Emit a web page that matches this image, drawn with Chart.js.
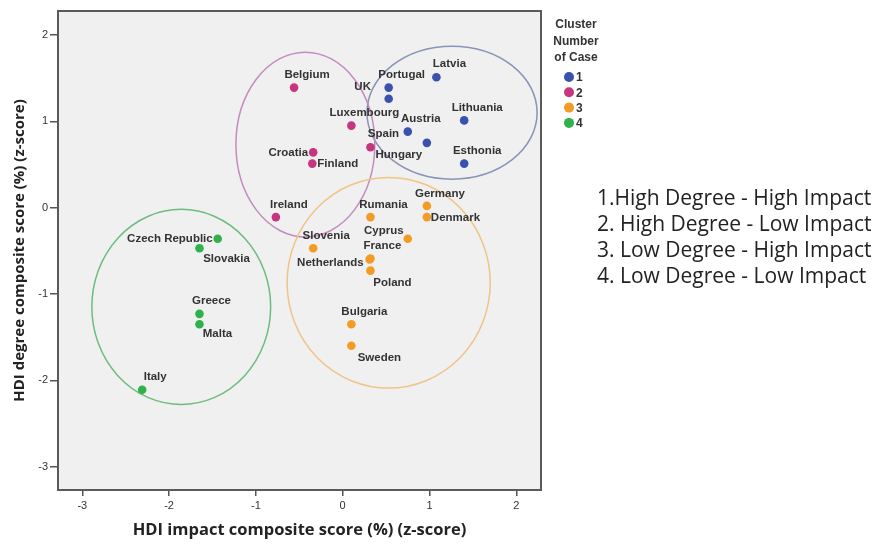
<!DOCTYPE html>
<html>
<head>
<meta charset="utf-8">
<title>HDI cluster scatter</title>
<script src="https://cdn.jsdelivr.net/npm/chart.js@4.4.0/dist/chart.umd.min.js"></script>
<style>
html, body { margin: 0; padding: 0; background: #fff; }
#wrap { position: relative; width: 892px; height: 550px; }
#notes {
  position: absolute; left: 597px; top: 184px;
  font-family: 'Open Sans', sans-serif; font-size: 21px; line-height: 26px; color: #222;
  white-space: pre;
}
</style>
</head>
<body>
<div id="wrap">
  <canvas id="cluster-chart" width="892" height="550"></canvas>
  <div id="notes">1.High Degree - High Impact
2. High Degree - Low Impact
3. Low Degree - High Impact
4. Low Degree - Low Impact</div>
</div>
<script>
// axis ticks
var xTicks = [-3, -2, -1, 0, 1, 2];
var yTicks = [-3, -2, -1, 0, 1, 2];

// cluster 1 - blue
var c1Countries = ['Latvia', 'Portugal', 'UK', 'Lithuania', 'Austria', 'Hungary', 'Esthonia'];
var c1Impact = [1.08, 0.53, 0.53, 1.40, 0.75, 0.97, 1.40];
var c1Degree = [1.51, 1.39, 1.26, 1.01, 0.88, 0.75, 0.51];

// cluster 2 - magenta
var c2Countries = ['Belgium', 'Luxembourg', 'Spain', 'Croatia', 'Finland', 'Ireland'];
var c2Impact = [-0.56, 0.10, 0.32, -0.34, -0.35, -0.77];
var c2Degree = [1.39, 0.95, 0.70, 0.64, 0.51, -0.11];

// cluster 3 - orange
var c3Countries = ['Germany', 'Denmark', 'Rumania', 'Cyprus', 'Slovenia', 'France', 'Netherlands', 'Poland', 'Bulgaria', 'Sweden'];
var c3Impact = [0.97, 0.97, 0.32, 0.75, -0.34, 0.32, 0.31, 0.32, 0.10, 0.10];
var c3Degree = [0.02, -0.11, -0.11, -0.36, -0.47, -0.59, -0.60, -0.73, -1.35, -1.60];

// cluster 4 - green
var c4Countries = ['Czech Republic', 'Slovakia', 'Greece', 'Malta', 'Italy'];
var c4Impact = [-1.44, -1.65, -1.65, -1.65, -2.31];
var c4Degree = [-0.36, -0.47, -1.23, -1.35, -2.11];

// ellipses drawn round each cluster (centre and half-axes, in z-score units)
var ringImpact = [1.26, -0.43, 0.53, -1.86];
var ringDegree = [1.10, 0.73, -0.87, -1.15];
var ringHalfWidth = [0.98, 0.80, 1.17, 1.03];
var ringHalfHeight = [0.77, 1.07, 1.22, 1.13];

var clusterNames = ['1', '2', '3', '4'];

// label placement next to each dot: [dx, dy, align]
var c1LabelPos = [[13,-13,'c'],[13,-13,'c'],[-26,-12,'c'],[13,-13,'c'],[13,-13,'c'],[-28,12,'c'],[13,-13,'c']];
var c2LabelPos = [[13,-13,'c'],[13,-13,'c'],[13,-13,'c'],[-5,0,'r'],[5,0,'l'],[13,-12,'c']];
var c3LabelPos = [[13,-12,'c'],[4,1,'l'],[13,-12,'c'],[-24,-8,'c'],[13,-12,'c'],[12,-13,'c'],[-6,3,'r'],[22,12,'c'],[13,-12,'c'],[28,12,'c']];
var c4LabelPos = [[-5,0,'r'],[27,11,'c'],[12,-13,'c'],[18,10,'c'],[13,-13,'c']];

var dotColors = ['#3a52ad', '#c7357f', '#f49b25', '#2eb24b'];
var ringColors = ['#8a93b8', '#c48cbd', '#f0c488', '#6dbd7f'];

function points(xs, ys) {
  return xs.map(function (x, i) { return { x: x, y: ys[i] }; });
}

var plotFrame = {
  id: 'plotFrame',
  beforeDraw: function (chart) {
    var a = chart.chartArea, ctx = chart.ctx;
    ctx.save();
    ctx.fillStyle = '#f0f0f0';
    ctx.fillRect(a.left, a.top, a.right - a.left, a.bottom - a.top);
    ctx.restore();
  },
  beforeDatasetsDraw: function (chart) {
    var ctx = chart.ctx, xs = chart.scales.x, ys = chart.scales.y;
    ctx.save();
    ctx.lineWidth = 1.5;
    for (var i = 0; i < ringImpact.length; i++) {
      var cx = xs.getPixelForValue(ringImpact[i]);
      var cy = ys.getPixelForValue(ringDegree[i]);
      var rx = Math.abs(xs.getPixelForValue(ringImpact[i] + ringHalfWidth[i]) - cx);
      var ry = Math.abs(ys.getPixelForValue(ringDegree[i] + ringHalfHeight[i]) - cy);
      ctx.strokeStyle = ringColors[i];
      ctx.beginPath();
      ctx.ellipse(cx, cy, rx, ry, 0, 0, Math.PI * 2);
      ctx.stroke();
    }
    ctx.restore();
  },
  afterDatasetsDraw: function (chart) {
    var ctx = chart.ctx;
    ctx.save();
    ctx.font = 'bold 11.5px "Liberation Sans", Arial, sans-serif';
    ctx.fillStyle = '#333';
    ctx.textBaseline = 'middle';
    chart.data.datasets.forEach(function (ds, i) {
      var meta = chart.getDatasetMeta(i);
      meta.data.forEach(function (el, j) {
        var p = ds.labelPos[j];
        ctx.textAlign = p[2] === 'l' ? 'left' : (p[2] === 'r' ? 'right' : 'center');
        ctx.fillText(ds.countries[j], el.x + p[0], el.y + p[1]);
      });
    });
    ctx.restore();
  },
  afterDraw: function (chart) {
    var a = chart.chartArea, ctx = chart.ctx;
    ctx.save();
    // frame
    ctx.strokeStyle = '#5a5a5a';
    ctx.lineWidth = 2;
    ctx.strokeRect(a.left, a.top, a.right - a.left, a.bottom - a.top);
    // legend
    var lx = a.right + 35;
    ctx.fillStyle = '#333';
    ctx.font = 'bold 12px "Liberation Sans", Arial, sans-serif';
    ctx.textAlign = 'center';
    ctx.textBaseline = 'middle';
    ctx.fillText('Cluster', lx, 25);
    ctx.fillText('Number', lx, 42);
    ctx.fillText('of Case', lx, 58);
    chart.data.datasets.forEach(function (ds, i) {
      var y = 77 + i * 15.3;
      ctx.fillStyle = ds.backgroundColor;
      ctx.beginPath();
      ctx.arc(lx - 7, y, 5, 0, Math.PI * 2);
      ctx.fill();
      ctx.fillStyle = '#333';
      ctx.textAlign = 'left';
      ctx.fillText(ds.label, lx, y + 1);
    });
    ctx.restore();
  }
};

var ctx = document.getElementById('cluster-chart');
var myChart = new Chart(ctx, {
  type: 'scatter',
  data: {
    datasets: [
      { label: clusterNames[0], data: points(c1Impact, c1Degree), countries: c1Countries, labelPos: c1LabelPos, backgroundColor: dotColors[0] },
      { label: clusterNames[1], data: points(c2Impact, c2Degree), countries: c2Countries, labelPos: c2LabelPos, backgroundColor: dotColors[1] },
      { label: clusterNames[2], data: points(c3Impact, c3Degree), countries: c3Countries, labelPos: c3LabelPos, backgroundColor: dotColors[2] },
      { label: clusterNames[3], data: points(c4Impact, c4Degree), countries: c4Countries, labelPos: c4LabelPos, backgroundColor: dotColors[3] }
    ]
  },
  options: {
    responsive: false,
    animation: false,
    layout: { padding: { left: 0, top: 11, right: 351, bottom: 0 } },
    elements: { point: { radius: 4.3, borderWidth: 0, hoverRadius: 4.3 } },
    plugins: { legend: { display: false }, tooltip: { enabled: false } },
    scales: {
      x: {
        type: 'linear',
        min: -3.28, max: 2.285,
        afterBuildTicks: function (s) { s.ticks = xTicks.map(function (v) { return { value: v }; }); },
        afterFit: function (s) { s.height = 60; },
        border: { display: false },
        grid: { drawOnChartArea: false, drawTicks: true, tickLength: 6, color: '#555', lineWidth: 1.5 },
        ticks: { color: '#333', padding: 3, font: { size: 11, family: '"Liberation Sans", Arial' } },
        title: {
          display: true, text: 'HDI impact composite score (%) (z-score)', color: '#222',
          padding: { top: 0, bottom: 9.5 },
          font: { size: 16.5, weight: 'bold', family: '"Open Sans", sans-serif' }
        }
      },
      y: {
        type: 'linear',
        min: -3.27, max: 2.277,
        afterBuildTicks: function (s) { s.ticks = yTicks.map(function (v) { return { value: v }; }); },
        afterFit: function (s) { s.width = 58; },
        border: { display: false },
        grid: { drawOnChartArea: false, drawTicks: true, tickLength: 8, color: '#555', lineWidth: 1.5 },
        ticks: { color: '#333', padding: 2, font: { size: 11, family: '"Liberation Sans", Arial' } },
        title: {
          display: true, text: 'HDI degree composite score (%) (z-score)', color: '#222',
          padding: { top: 11, bottom: 0 },
          font: { size: 15, weight: 'bold', family: '"Open Sans", sans-serif' }
        }
      }
    }
  },
  plugins: [plotFrame]
});
</script>
</body>
</html>
